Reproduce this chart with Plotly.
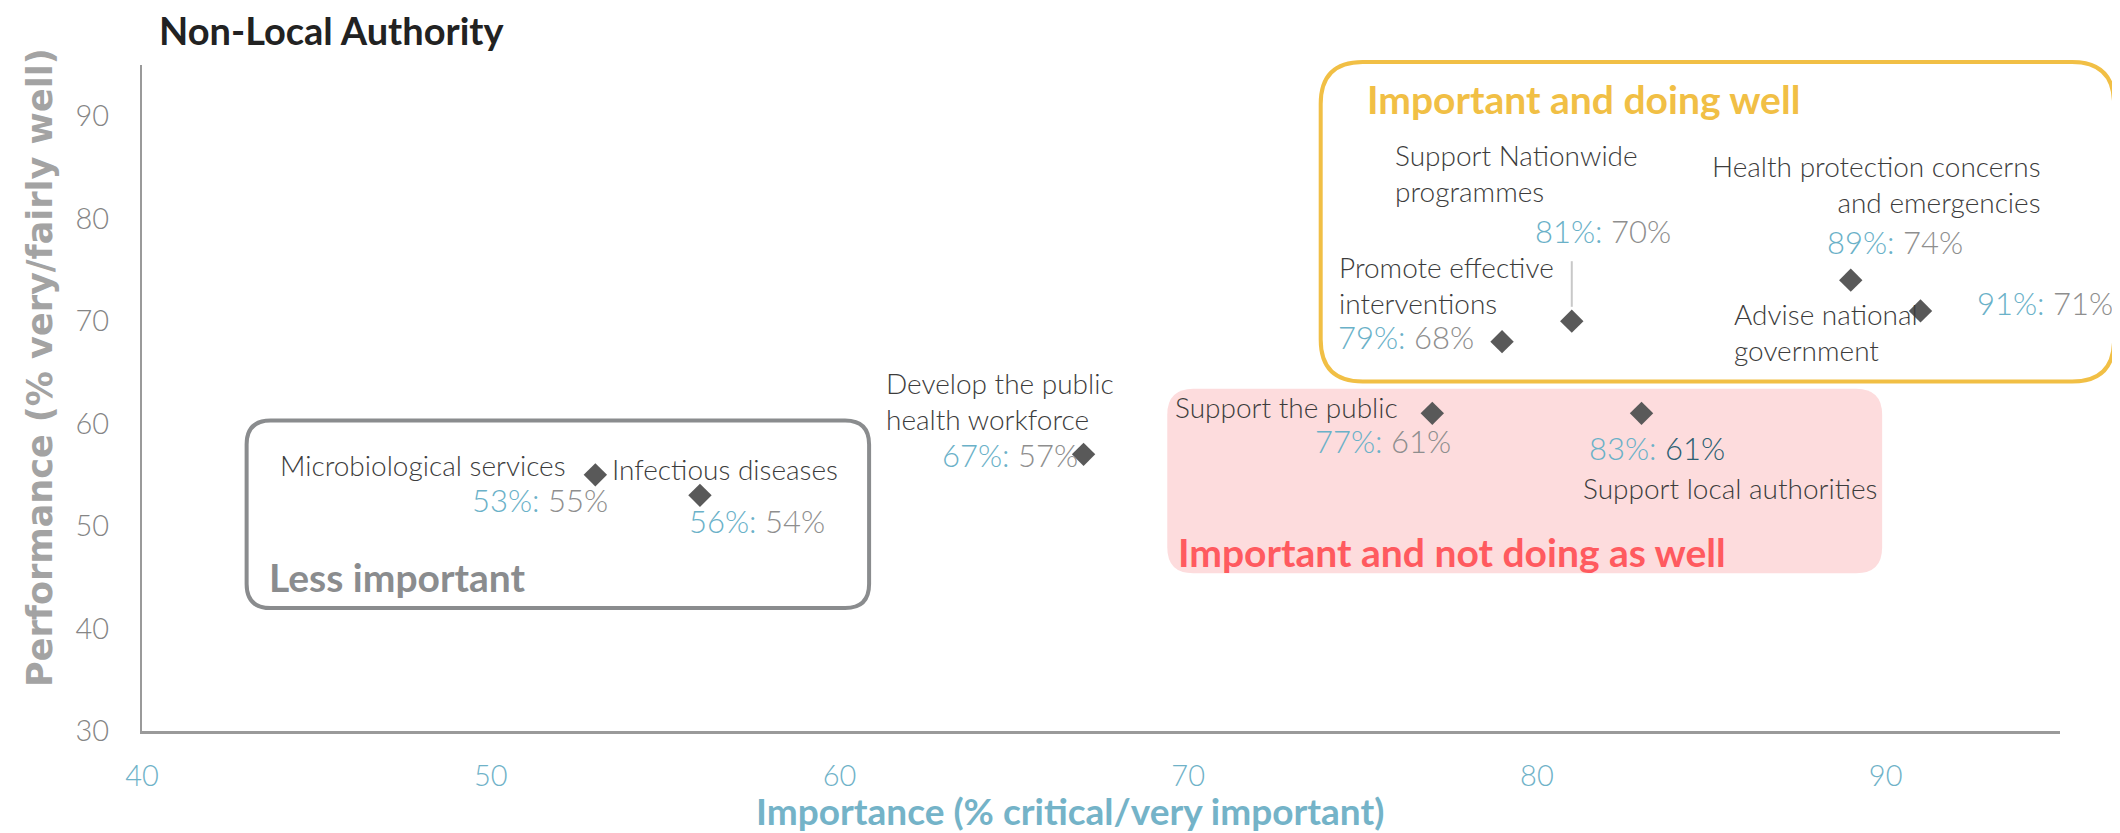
import plotly.graph_objects as go

# Importancia (% critical/very important) y desempeño (% very/fairly well)
nombres = ["Microbiological services", "Infectious diseases",
           "Develop the public<br>health workforce", "Support the public",
           "Support local authorities", "Promote effective<br>interventions",
           "Support Nationwide<br>programmes",
           "Health protection concerns<br>and emergencies",
           "Advise national<br>government"]
importancia = [53, 56, 67, 77, 83, 79, 81, 89, 91]
# posicion del punto en el grafico
desempeno = [55, 53, 57, 61, 61, 68, 70, 74, 71]
# valor que muestra la etiqueta
desempeno_etiqueta = [55, 54, 57, 61, 61, 68, 70, 74, 71]

xticks = [40, 50, 60, 70, 80, 90]
yticks = [30, 40, 50, 60, 70, 80, 90]

# la pagina deja 8px de margen en el body: la figura se achica eso
BODY = 8
W, H = 2120 - BODY, 833 - BODY
ML, MR, MT, MB = 134, 60, 57, 102
XR = [40, 95]
YR = [30, 95]
pw = W - ML - MR
ph = H - MT - MB

AZUL = "#6ab1c8"
GRIS = "#8e8e8e"
TXT = "#3c3c3c"
FUENTE = "Lato"

# posicion de etiquetas: (anchor nombre, dx, dy, anchor cifras, dx, dy)
etiquetas = [
    ("right", -27, 10, "right", 15, -25),
    ("left", -90, 26, "left", -13, -26),
    ("left", -200, 53, "right", -4, -1),
    ("left", -259, 6, "left", -119, -28),
    ("left", -61, -75, "left", -55, -35),
    ("left", -165, 57, "left", -166, 5),
    ("left", -179, 148, "left", -39, 90),
    ("right", 192, 96, "left", -26, 38),
    ("left", -189, -21, "left", 54, 8),
]
color_perf = [GRIS] * 9
color_perf[4] = "#2d5f72"


def px(x, y):
    # datos -> coordenadas paper
    return (x - XR[0]) / (XR[1] - XR[0]), (y - YR[0]) / (YR[1] - YR[0])


def pag(X, Y):
    # pixel de la pagina -> coordenadas paper
    return (X - BODY - ML) / pw, (H - MB - (Y - BODY)) / ph


def caja(x0, y0, x1, y1, r):
    a0, b0 = px(x0, y0)
    a1, b1 = px(x1, y1)
    rx = r / pw
    ry = r / ph
    return (f"M {a0+rx},{b1} L {a1-rx},{b1} Q {a1},{b1} {a1},{b1-ry} "
            f"L {a1},{b0+ry} Q {a1},{b0} {a1-rx},{b0} L {a0+rx},{b0} "
            f"Q {a0},{b0} {a0},{b0+ry} L {a0},{b1-ry} Q {a0},{b1} {a0+rx},{b1} Z")


fig = go.Figure()

shapes = [
    dict(type="path", xref="paper", yref="paper", layer="below",
         path=caja(69.4, 45.4, 89.9, 63.4, 26),
         fillcolor="#fddcdd", line=dict(width=0)),
    dict(type="path", xref="paper", yref="paper", layer="below",
         path=caja(43.0, 42.0, 60.85, 60.3, 24),
         line=dict(color="#8a8c8e", width=4)),
    dict(type="path", xref="paper", yref="paper", layer="below",
         path=caja(73.8, 64.1, 96.55, 95.3, 42),
         line=dict(color="#f1bf45", width=4)),
    # linea guia Support Nationwide
    dict(type="line", xref="x", yref="y",
         x0=importancia[6], x1=importancia[6],
         y0=desempeno[6] + 1.4, y1=desempeno[6] + 5.85,
         line=dict(color="#c8c8c8", width=2)),
]

fig.add_trace(go.Scatter(
    x=importancia, y=desempeno, mode="markers",
    marker=dict(symbol="diamond", size=18, color="#595959"),
    hoverinfo="skip", showlegend=False))

anots = []
for i, n in enumerate(nombres):
    an, dx, dy, an2, dx2, dy2 = etiquetas[i]
    anots.append(dict(
        x=importancia[i], y=desempeno[i], xref="x", yref="y", text=n,
        showarrow=False, xanchor=an, yanchor="middle", xshift=dx, yshift=dy,
        align=an, font=dict(family=FUENTE, size=28, color=TXT, weight=300)))
    cif = (f"<span style='color:{AZUL}'>{importancia[i]}%:</span> "
           f"<span style='color:{color_perf[i]}'>{desempeno_etiqueta[i]}%</span>")
    anots.append(dict(
        x=importancia[i], y=desempeno[i], xref="x", yref="y", text=cif,
        showarrow=False, xanchor=an2, yanchor="middle", xshift=dx2, yshift=dy2,
        font=dict(family=FUENTE, size=31, weight=300)))


def rotulo(X, Y, texto, size, color, anchor="left", fam=FUENTE, ang=0):
    a, b = pag(X, Y)
    return dict(x=a, y=b, xref="paper", yref="paper", text=f"<b>{texto}</b>",
                showarrow=False, xanchor=anchor, yanchor="middle",
                textangle=ang, font=dict(family=fam, size=size, color=color))


# titulos de cuadrantes y ejes
anots += [
    rotulo(157, 30, "Non-Local Authority", 38, "#222222"),
    rotulo(1365, 99, "Important and doing well", 39, "#f1bf45"),
    rotulo(1176, 552, "Important and not doing as well", 39, "#ff5a5f"),
    rotulo(267, 577, "Less important", 39, "#8a8c8e"),
    rotulo(1070, 810, "Importance (% critical/very important)", 37,
           "#74b3c8", anchor="center"),
    rotulo(40, 368, "Performance (% very/fairly well)", 35, "#a3a3a3",
           anchor="center", fam="DejaVu Sans", ang=-90),
]

fig.update_layout(
    width=W, height=H,
    margin=dict(l=ML, r=MR, t=MT, b=MB),
    paper_bgcolor="white", plot_bgcolor="white",
    shapes=shapes, annotations=anots,
    xaxis=dict(range=XR, tickvals=xticks, showgrid=False, zeroline=False,
               showline=True, linecolor="#9a9a9a", linewidth=3,
               ticks="outside", ticklen=17, tickcolor="rgba(0,0,0,0)",
               tickfont=dict(family=FUENTE, size=29, color="#6fb2c8", weight=300)),
    yaxis=dict(range=YR, tickvals=yticks, showgrid=False, zeroline=False,
               showline=True, linecolor="#9a9a9a", linewidth=2,
               ticks="outside", ticklen=25, tickcolor="rgba(0,0,0,0)",
               tickfont=dict(family=FUENTE, size=29, color="#858585", weight=300)),
)

fig.write_html("out.html")
